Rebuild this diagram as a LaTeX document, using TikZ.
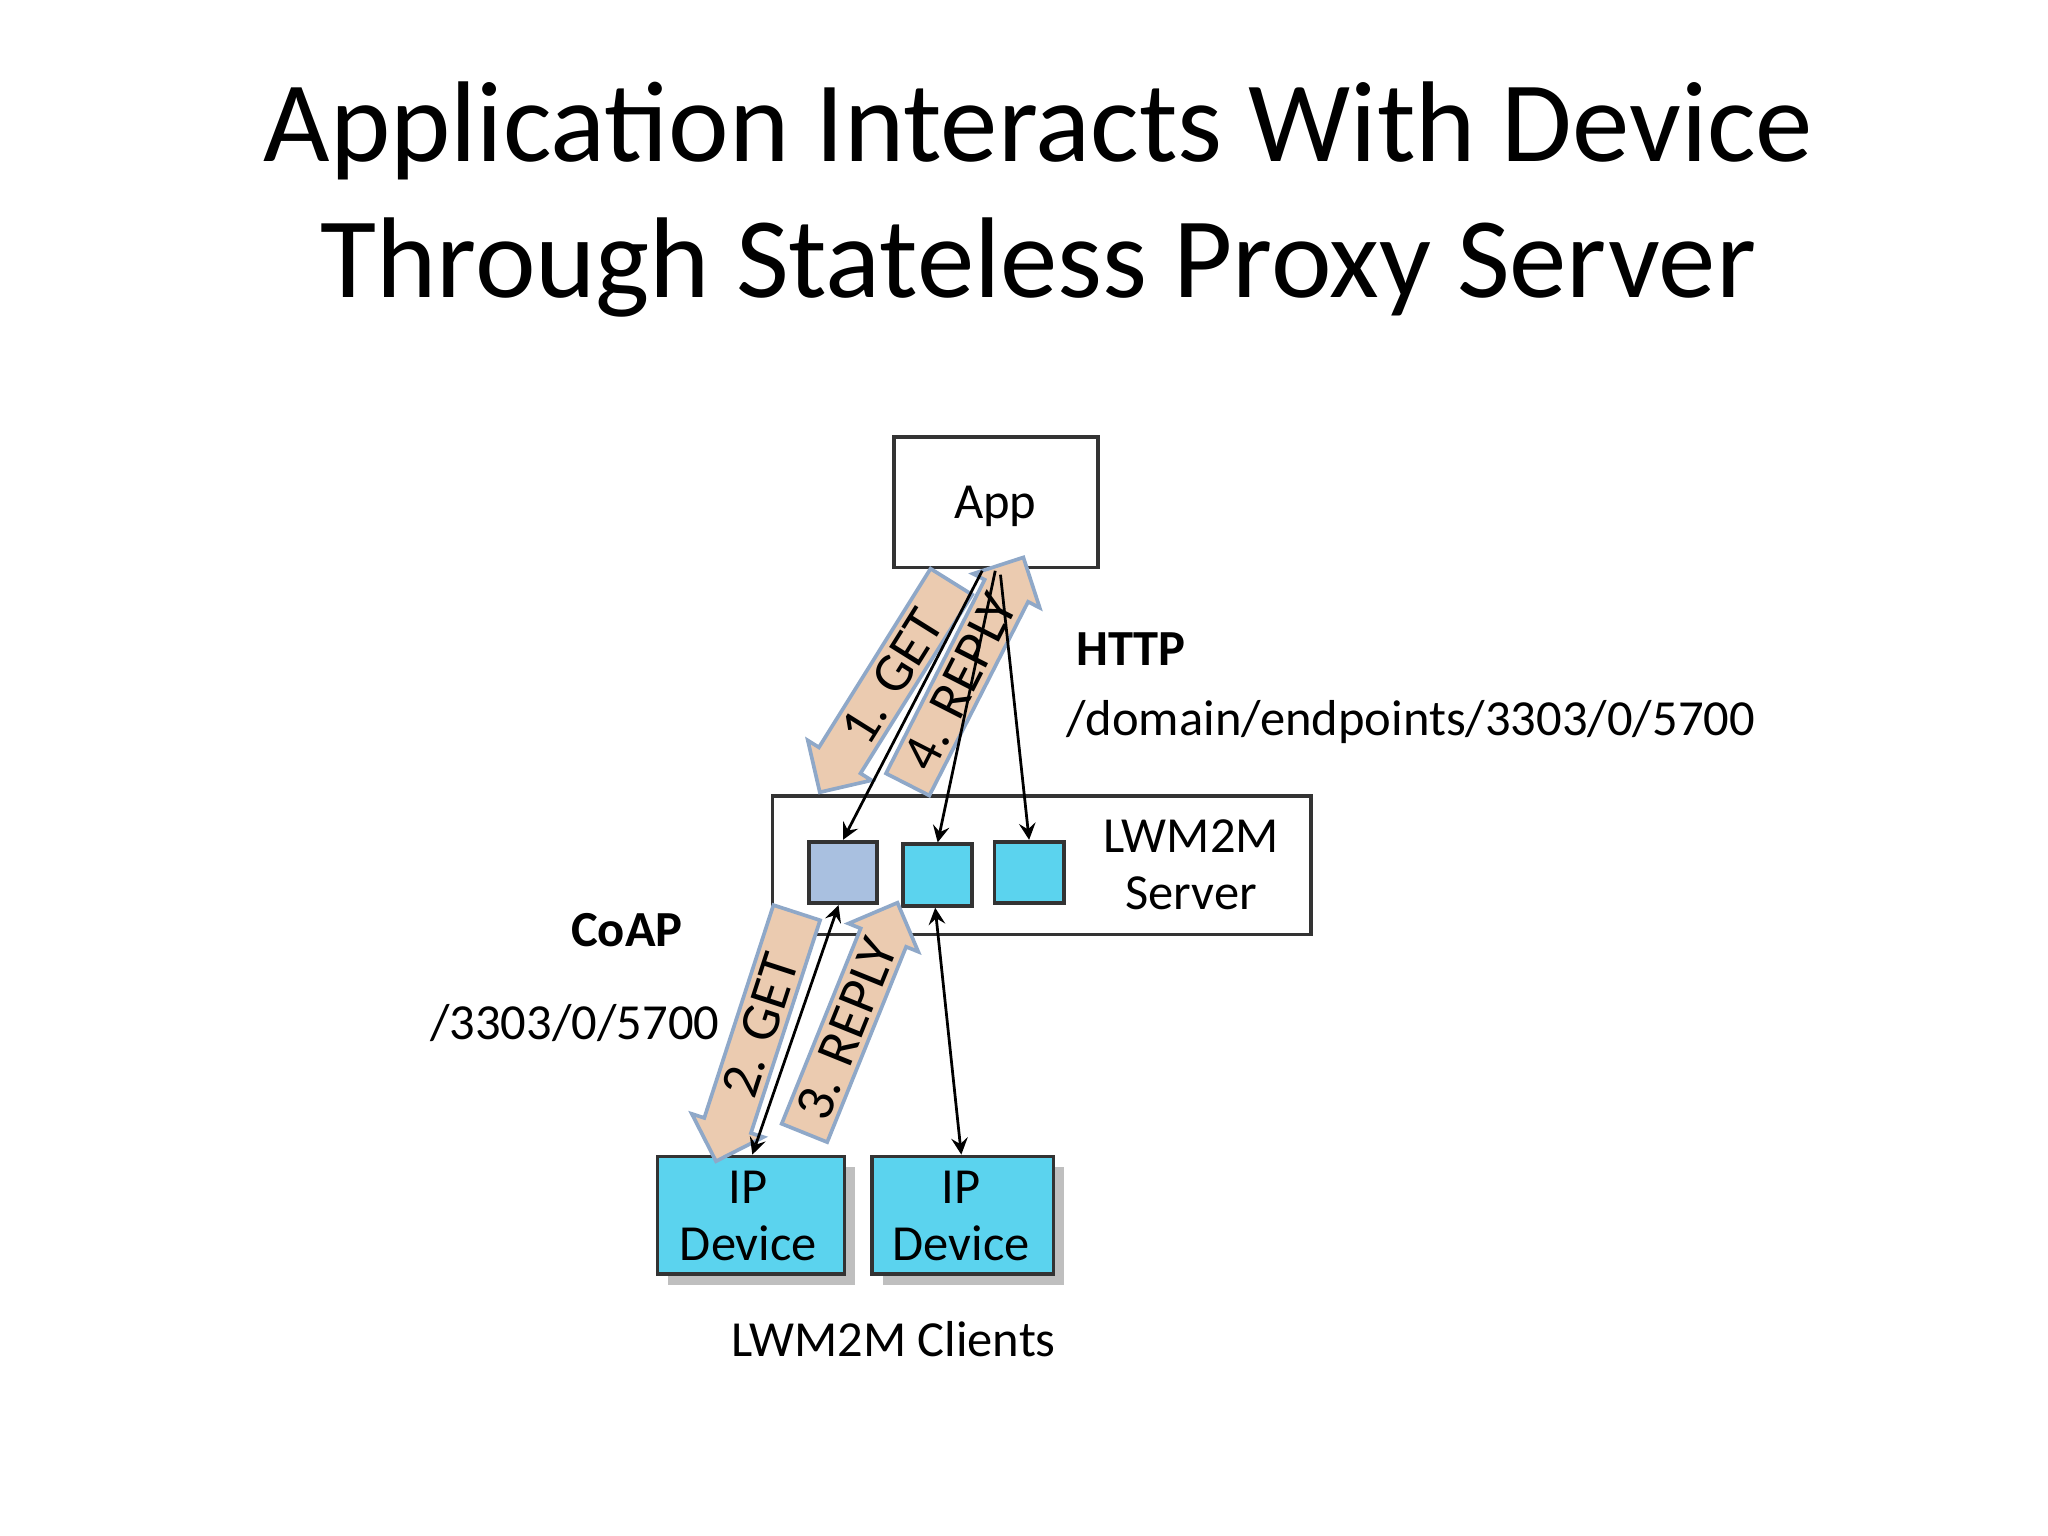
\documentclass[tikz,border=0pt]{standalone}
\usepackage{fontspec}
\setmainfont{Carlito}
\usetikzlibrary{shapes.arrows,shadows}
\definecolor{cy}{HTML}{5BD3EE}
\definecolor{gb}{HTML}{A9C0E0}
\definecolor{tan}{HTML}{EBCBB0}
\definecolor{ab}{HTML}{8FA8C8}
\tikzset{
 box/.style={draw=black!80,thick,inner sep=0,anchor=north west},
 big/.style={single arrow,draw=ab,fill=tan,thick,minimum width=0.5cm,single arrow head extend=0.1cm,inner sep=1pt,font=\fontsize{12}{12}\selectfont},
 lab/.style={font=\fontsize{11}{12.5}\selectfont,align=center},
 thin/.style={semithick,-stealth},
}
\begin{document}
\begin{tikzpicture}[x=0.01cm,y=-0.01cm]
\useasboundingbox (0,0) rectangle (1568,1176);
\node (t1) at (795,100) {\fontsize{25}{30}\selectfont Application Interacts With Device};
\node (t2) at (795,205) {\fontsize{25}{30}\selectfont Through Stateless Proxy Server};
\node[box,minimum width=1.56cm,minimum height=1cm] (app) at (683,333) {};
\node[lab] at (762,388) {App};
\node[box,minimum width=4.12cm,minimum height=1.06cm] (srv) at (590,608) {};
\node[lab] at (912,662) {LWM2M\\Server};
\node[box,fill=gb,minimum width=0.52cm,minimum height=0.47cm] (s1) at (618,643) {};
\node[box,fill=cy,minimum width=0.53cm,minimum height=0.47cm] (s2) at (690,645) {};
\node[box,fill=cy,minimum width=0.53cm,minimum height=0.47cm] (s3) at (760,643) {};
\node[box,fill=cy,drop shadow,minimum width=1.43cm,minimum height=0.9cm] (d1) at (502,884) {};
\node[lab] at (573,931) {IP\\Device};
\node[box,fill=cy,drop shadow,minimum width=1.39cm,minimum height=0.9cm] (d2) at (666,884) {};
\node[lab] at (736,931) {IP\\Device};
\node[lab,font=\bfseries\fontsize{11}{12.5}\selectfont] (http) at (866,497) {HTTP};
\node[lab] (path1) at (1080,553) {/domain/endpoints/3303/0/5700};
\node[lab,font=\bfseries\fontsize{11}{12.5}\selectfont] (coap) at (480,712) {CoAP};
\node[lab] (path2) at (440,783) {/3303/0/5700};
\node[lab] (cl) at (684,1025) {LWM2M Clients};
% big arrows
\node[big,rotate=58,shape border rotate=180,minimum height=1.9cm] (a1) at (683,518) {1. GET};
\node[big,rotate=63,minimum height=1.95cm] (a4) at (735,522) {4. REPLY};
\node[big,rotate=72,shape border rotate=180,minimum height=2cm] (a2) at (582,785) {2. GET};
\node[big,rotate=68,minimum height=1.9cm] (a3) at (648,788) {3. REPLY};
% thin arrows
\coordinate (p1) at (752,437);
\coordinate (p2) at (762,437);
\coordinate (p3) at (766,440);
\draw[thin] (p1) -- (s1.north);
\draw[thin] (p2) -- (s2.north);
\draw[thin] (p3) -- (s3.north);
\coordinate (q1) at (642,693);
\coordinate (q2) at (576,884);
\draw[semithick,stealth-stealth] (q1) -- (q2);
\coordinate (q3) at (716,695);
\coordinate (q4) at (736,884);
\draw[semithick,stealth-stealth] (q3) -- (q4);
\end{tikzpicture}
\end{document}
